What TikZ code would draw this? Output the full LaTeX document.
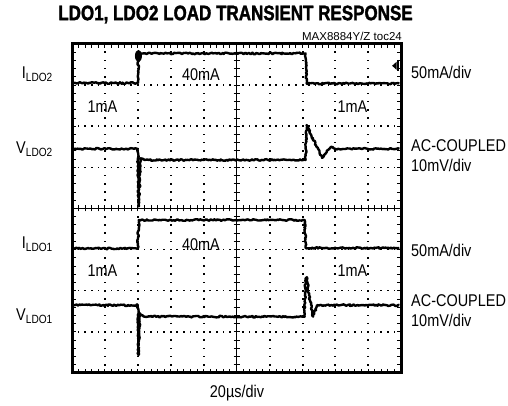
\documentclass[tikz,border=0pt]{standalone}
\usepackage{fontspec}
\setmainfont{Liberation Sans}[FakeStretch=0.85]
\newfontfamily\titlefont{Liberation Sans}[FakeStretch=0.81,FakeBold=1.5]
\newfontfamily\tocfont{Liberation Sans}
\usetikzlibrary{decorations.pathmorphing}
\newcommand{\lblsize}{\fontsize{17}{20}\selectfont}

\begin{document}
\begin{tikzpicture}[x=1pt,y=1pt]
\tikzstyle{lbl}=[inner sep=0pt,font=\lblsize]
\tikzstyle{trace}=[line width=2.4pt,line join=round,decorate,
  decoration={random steps,segment length=1.4pt,amplitude=0.8pt}]
\tikzstyle{tickmark}=[line width=0.9pt]
\pgfmathsetseed{7}

\useasboundingbox (0,0) rectangle (508,406);
\fill[white] (0,0) rectangle (508,406);

% title and plot id
\draw (235.5,391.5) node[inner sep=0pt,font=\titlefont\bfseries\fontsize{21}{24}\selectfont] (title) {LDO1, LDO2 LOAD TRANSIENT RESPONSE};
\draw (402,365) node[inner sep=0pt,anchor=base east,font=\tocfont\fontsize{11.5}{13}\selectfont] (toc) {MAX8884Y/Z toc24};

% dotted grid, in px
\foreach \gx in {105,138,171,204,270,303,335,368}
  \foreach \k in {0,...,40}
    \fill (\gx-0.8,33+8.225*\k-0.8) rectangle ++(1.6,1.6);
\foreach \gy in {74.1,115.3,156.4,238.6,279.8,320.9}
  \foreach \k in {0,...,50}
    \fill (72+6.58*\k-0.8,\gy-0.8) rectangle ++(1.6,1.6);

\begin{scope}[shift={(72,33)},x=32.9pt,y=41.125pt] % scope screen, 10 x 8 div

% centre axes with ticks
\draw[tickmark] (0,4) -- (10,4) (5,0) -- (5,8);
\foreach \k in {1,...,49} {
  \draw[tickmark] ({\k/5},4) ++(0,-3pt) -- ++(0,6pt);
  \draw[tickmark] ({\k/5},0) -- ++(0,4pt);
  \draw[tickmark] ({\k/5},8) -- ++(0,-4pt);
}
\foreach \k in {1,...,39} {
  \draw[tickmark] (5,{\k/5}) ++(-3pt,0) -- ++(6pt,0);
  \draw[tickmark] (0,{\k/5}) -- ++(4pt,0);
  \draw[tickmark] (10,{\k/5}) -- ++(-4pt,0);
}

% frame
\draw[line width=3pt] (0,0) rectangle (10,8);

% I LDO2
\draw[trace] (0.05,7.05) -- (2.0,7.05) -- (2.02,7.77) -- (7.1,7.77) -- (7.13,7.04) -- (9.95,7.04);
\fill (2.02,7.71) ellipse (3.5pt and 6pt); % channel marker
\fill (9.73,7.47) -- (9.87,7.57) -- (9.87,7.37) -- cycle; % trigger level
\draw[line width=1.5pt] (9.91,7.35) -- (9.91,7.59);

% V LDO2
\draw[trace] (0.05,5.45) -- (2.0,5.45) -- (2.03,4.05) -- (2.08,5.22) -- (2.2,5.18)
  -- (7.1,5.18) -- (7.13,6.03) -- (7.6,5.23) -- (7.87,5.5) -- (8.0,5.45) -- (9.95,5.45);

% I LDO1
\draw[trace] (0.05,3.03) -- (2.0,3.03) -- (2.03,3.72) -- (7.07,3.72) -- (7.1,3.04) -- (9.95,3.04);

% V LDO1
\draw[trace] (0.05,1.65) -- (2.0,1.65) -- (2.02,0.44) -- (2.07,1.45) -- (2.2,1.37)
  -- (7.07,1.37) -- (7.1,2.3) -- (7.14,2.33) -- (7.2,1.9) -- (7.33,1.37) -- (7.45,1.65) -- (9.95,1.65);
\end{scope}

% channel names
\draw (53,327.5) node[lbl,anchor=base east] (ildo2) {I\textsubscript{LDO2}};
\draw (53,252.5) node[lbl,anchor=base east] (vldo2) {V\textsubscript{LDO2}};
\draw (53,157.5) node[lbl,anchor=base east] (ildo1) {I\textsubscript{LDO1}};
\draw (53,85) node[lbl,anchor=base east] (vldo1) {V\textsubscript{LDO1}};

% levels on screen
\draw (201,325) node[lbl,anchor=base] (hiA) {40mA};
\draw (102.5,293) node[lbl,anchor=base] (loAa) {1mA};
\draw (352.5,293) node[lbl,anchor=base] (loAb) {1mA};
\draw (201,155) node[lbl,anchor=base] (hiB) {40mA};
\draw (102.5,129) node[lbl,anchor=base] (loBa) {1mA};
\draw (352.5,129) node[lbl,anchor=base] (loBb) {1mA};

% scales
\draw (411,327) node[lbl,anchor=base west] (scIa) {50mA/div};
\draw (411,254) node[lbl,anchor=base west] (acA) {AC-COUPLED};
\draw (411,234) node[lbl,anchor=base west] (scVa) {10mV/div};
\draw (411,149) node[lbl,anchor=base west] (scIb) {50mA/div};
\draw (411,99) node[lbl,anchor=base west] (acB) {AC-COUPLED};
\draw (411,79) node[lbl,anchor=base west] (scVb) {10mV/div};
\draw (237,8) node[lbl,anchor=base] (tdiv) {20µs/div};
\end{tikzpicture}
\end{document}
